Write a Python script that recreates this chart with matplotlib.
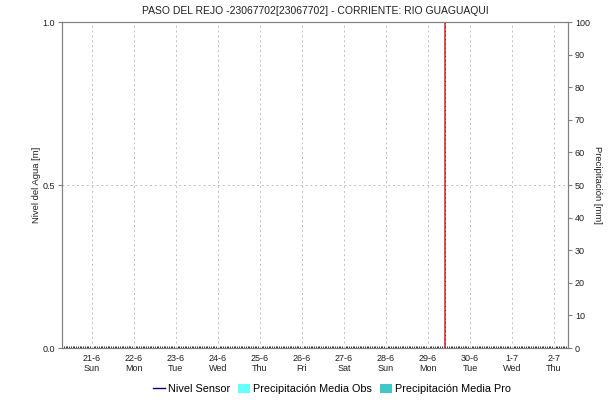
import matplotlib
matplotlib.use("Agg")
import matplotlib.pyplot as plt
import matplotlib.dates as mdates
from matplotlib.lines import Line2D
from matplotlib.patches import Patch
from datetime import datetime, timedelta

plt.rcParams['font.family'] = ['Liberation Sans', 'DejaVu Sans']

title = "PASO DEL REJO -23067702[23067702] - CORRIENTE: RIO GUAGUAQUI"
day_ticks = [datetime(2020, 6, 21) + timedelta(days=i) for i in range(12)]
day_names = ["Sun", "Mon", "Tue", "Wed", "Thu", "Fri", "Sat", "Sun", "Mon", "Tue", "Wed", "Thu"]
x_start = datetime(2020, 6, 20, 7, 0)
x_end = datetime(2020, 7, 2, 8, 0)
now_marker = datetime(2020, 6, 29, 9, 40)
nivel_times = []
nivel_values = []
precip_obs = []
precip_pro = []
left_ticks = [0.0, 0.5, 1.0]
right_ticks = list(range(0, 101, 10))

fig = plt.figure(figsize=(6.12, 4.03), dpi=100)
ax = fig.add_axes([62/612, 1-348/403, (568-62)/612, (348-22)/403])
ax2 = ax.twinx()

ax.plot(nivel_times, nivel_values, color='#000080', lw=1)
ax2.bar(nivel_times[:len(precip_obs)], precip_obs, color='#66ffff')

ax.set_xlim(x_start, x_end)
ax.set_ylim(0, 1)
ax2.set_ylim(0, 100)

ax.set_xticks(day_ticks)
ax.set_xticklabels([f"{d.day}-{d.month}\n{n}" for d, n in zip(day_ticks, day_names)],
                   fontsize=6.5, color='#202020', linespacing=1.2)
ax.xaxis.set_minor_locator(mdates.HourLocator(interval=1))
ax.tick_params(axis='x', which='major', length=0, pad=4)
ax.tick_params(axis='x', which='minor', length=1.5, direction='in', color='#303030', width=0.7)
ax.set_yticks(left_ticks)
ax.set_yticklabels([f"{v:.1f}" for v in left_ticks], fontsize=6.5, color='#202020')
ax.tick_params(axis='y', length=3, color='#808080', pad=2)
ax2.set_yticks(right_ticks)
ax2.set_yticklabels([str(v) for v in right_ticks], fontsize=6.5, color='#202020')
ax2.tick_params(axis='y', length=3, color='#808080', pad=2)

ax.grid(True, axis='x', color='#c0c0c0', linestyle=(0, (2, 3)), lw=0.7)
ax.grid(True, axis='y', color='#c0c0c0', linestyle=(0, (2, 3)), lw=0.7)

for a in (ax, ax2):
    for s in a.spines.values():
        s.set_color('#808080')
        s.set_linewidth(0.8)

ax.axvline(now_marker, color='#e03030', lw=1.2, zorder=5)
ax.axvline(now_marker, color='#800000', lw=0.6, linestyle=(0, (1, 4)), zorder=6)

ax.set_ylabel("Nivel del Agua [m]", fontsize=6.8, color='#202020', labelpad=1)
ax2.set_ylabel("Precipitación [mm]", fontsize=6.8, color='#202020', rotation=-90, labelpad=9)
fig.text((62+568)/2/612, 1-11/403, title, ha='center', va='center', fontsize=7.5, color='#202020')

handles = [Line2D([], [], color='#000080', lw=1),
           Patch(facecolor='#66ffff', edgecolor='none'),
           Patch(facecolor='#40c8c8', edgecolor='none')]
labels = ["Nivel Sensor", "Precipitación Media Obs", "Precipitación Media Pro"]
fig.legend(handles, labels, loc='center', bbox_to_anchor=(332/612, 1-389/403), ncol=3, frameon=False,
           fontsize=7.8, handlelength=1.1, handleheight=1.0, handletextpad=0.3, columnspacing=0.7)

fig.savefig("out.png", dpi=100)
